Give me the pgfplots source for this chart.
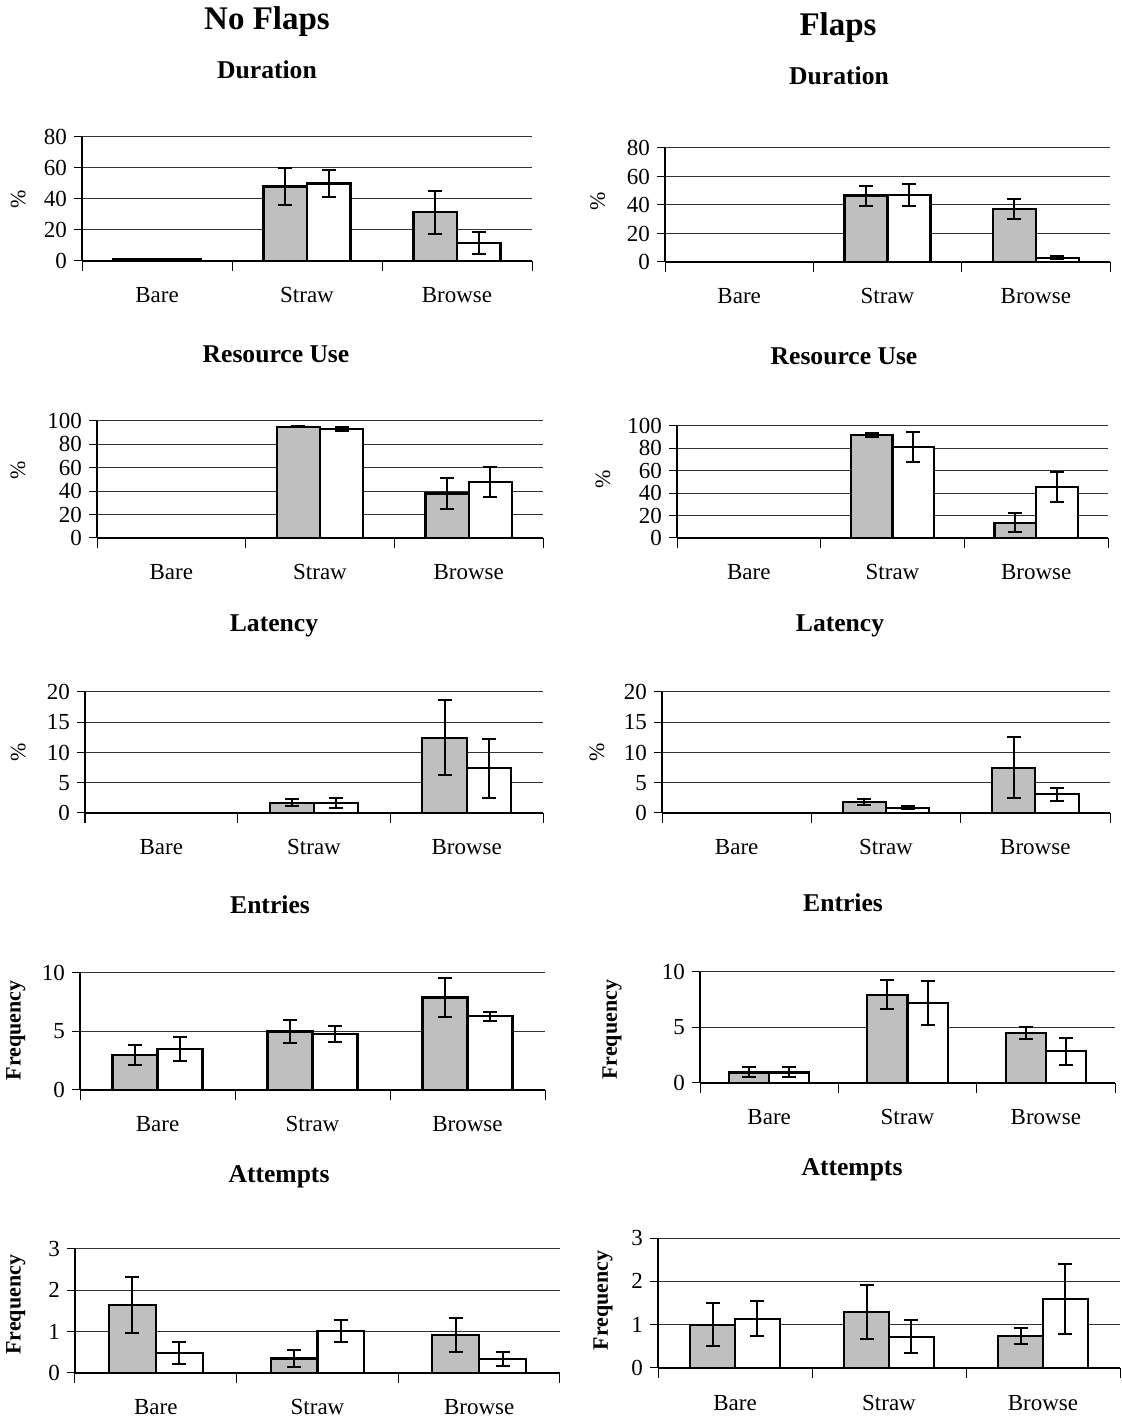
\documentclass[border=0pt]{standalone}
\usepackage{fontspec}
\setmainfont{Liberation Serif}
\usepackage{pgfplots}
\pgfplotsset{compat=1.18}
\pgfplotsset{
 ebar/.style={error bars/y dir=both, error bars/y explicit,
   error bars/error bar style={line width=1pt, black},
   error bars/error mark options={rotate=90, black, line width=1pt, mark size=3.5pt}},
 gbar/.style={fill=black!25, draw=black, line width=1.1pt, bar shift=-0.145, ebar},
 wbar/.style={fill=white, draw=black, line width=1.1pt, bar shift=0.145, ebar},
 panel/.style={
  scale only axis, anchor=south west,
  ybar, bar width=0.29,
  xmin=-0.5, xmax=2.5, ymin=0,
  xtick={0,1,2}, xticklabels={Bare,Straw,Browse},
  minor xtick={-0.5,0.5,1.5,2.5},
  major x tick style={draw=none},
  minor x tick style={black, line width=0.5pt},
  minor tick length=5pt,
  major tick length=4pt,
  tick align=outside,
  axis lines*=left,
  axis line style={black, line width=0.6pt},
  ymajorgrids, grid style={black!80, line width=0.5pt},
  ytick style={black, line width=0.5pt},
  tick label style={font=\fontsize{11.5}{13}\selectfont},
  /pgf/number format/assume math mode=true,
  xticklabel style={anchor=base, yshift=-17pt},
  yticklabel style={xshift=0pt},
  clip=false,
 },
 pct/.style={ylabel={\%}, ylabel style={at={(axis description cs:#1)}, anchor=center, font=\fontsize{11}{13}\selectfont}},
 freq/.style={ylabel={Frequency}, ylabel style={at={(axis description cs:#1)}, anchor=center, font=\bfseries\fontsize{11}{13}\selectfont}},
}
\begin{document}
\begin{tikzpicture}
\useasboundingbox (0,0) rectangle (561pt,711pt);
\tikzset{ttl/.style={font=\bfseries\fontsize{12.8}{15}\selectfont}}
\node[font=\bfseries\fontsize{16.5}{19}\selectfont] at (133.5pt,700pt) {No Flaps};
\node[font=\bfseries\fontsize{16.5}{19}\selectfont] at (419pt,697pt) {Flaps};
\node[ttl] at (133.5pt,676pt) {Duration};
\node[ttl] at (419.5pt,673pt) {Duration};
\node[ttl] at (138pt,534pt) {Resource Use};
\node[ttl] at (422pt,533pt) {Resource Use};
\node[ttl] at (137pt,398pt) {Latency};
\node[ttl] at (420pt,398pt) {Latency};
\node[ttl] at (135pt,258.5pt) {Entries};
\node[ttl] at (421.5pt,259.5pt) {Entries};
\node[ttl] at (139.5pt,122.5pt) {Attempts};
\node[ttl] at (426pt,126pt) {Attempts};

% P1 No Flaps Duration
\begin{axis}[panel, at={(41pt,580.5pt)}, width=225pt, height=62pt,
  ymax=80, ytick={0,20,40,60,80}, pct={-0.142,0.5}]
\addplot[gbar] coordinates {(0,1.5) +- (0,0) (1,48) +- (0,12) (2,31.4) +- (0,14)};
\addplot[wbar] coordinates {(0,1.5) +- (0,0) (1,50) +- (0,8.5) (2,11.5) +- (0,7)};
\end{axis}

% P2 No Flaps Resource Use
\begin{axis}[panel, at={(48.5pt,442pt)}, width=223pt, height=58.5pt,
  ymax=100, ytick={0,20,40,60,80,100}, pct={-0.177,0.58}]
\addplot[gbar] coordinates {(0,0) +- (0,0) (1,95) +- (0,0.5) (2,38) +- (0,13.4)};
\addplot[wbar] coordinates {(0,0) +- (0,0) (1,93) +- (0,1.5) (2,48) +- (0,12.7)};
\end{axis}

% P3 No Flaps Latency
\begin{axis}[panel, at={(42.5pt,304.5pt)}, width=229pt, height=60.5pt,
  ymax=20, ytick={0,5,10,15,20}, pct={-0.146,0.5}]
\addplot[gbar] coordinates {(0,0) +- (0,0) (1,1.7) +- (0,0.55) (2,12.4) +- (0,6.2)};
\addplot[wbar] coordinates {(0,0) +- (0,0) (1,1.7) +- (0,0.8) (2,7.4) +- (0,4.9)};
\end{axis}

% P4 No Flaps Entries
\begin{axis}[panel, at={(40pt,166pt)}, width=232.5pt, height=58.5pt,
  ymax=10, ytick={0,5,10}, freq={-0.138,0.51}]
\addplot[gbar] coordinates {(0,3.0) +- (0,0.86) (1,5.0) +- (0,0.96) (2,7.9) +- (0,1.68)};
\addplot[wbar] coordinates {(0,3.5) +- (0,1.05) (1,4.8) +- (0,0.68) (2,6.3) +- (0,0.37)};
\end{axis}

% P5 No Flaps Attempts
\begin{axis}[panel, at={(37.5pt,24.5pt)}, width=242.5pt, height=62pt,
  ymax=3, ytick={0,1,2,3}, freq={-0.122,0.55}]
\addplot[gbar] coordinates {(0,1.65) +- (0,0.68) (1,0.35) +- (0,0.2) (2,0.91) +- (0,0.41)};
\addplot[wbar] coordinates {(0,0.49) +- (0,0.27) (1,1.02) +- (0,0.26) (2,0.34) +- (0,0.18)};
\end{axis}

% P6 Flaps Duration
\begin{axis}[panel, at={(332.5pt,580pt)}, width=222.5pt, height=57pt,
  ymax=80, ytick={0,20,40,60,80}, pct={-0.151,0.53}]
\addplot[gbar] coordinates {(0,0) +- (0,0) (1,46.6) +- (0,7) (2,37) +- (0,7)};
\addplot[wbar] coordinates {(0,0) +- (0,0) (1,47) +- (0,8) (2,3) +- (0,1)};
\end{axis}

% P7 Flaps Resource Use
\begin{axis}[panel, at={(338.5pt,442pt)}, width=215.5pt, height=56pt,
  ymax=100, ytick={0,20,40,60,80,100}, pct={-0.172,0.52}]
\addplot[gbar] coordinates {(0,0) +- (0,0) (1,92) +- (0,1.5) (2,13.6) +- (0,8.7)};
\addplot[wbar] coordinates {(0,0) +- (0,0) (1,81) +- (0,13.4) (2,45.7) +- (0,13.4)};
\end{axis}

% P8 Flaps Latency
\begin{axis}[panel, at={(331pt,304.5pt)}, width=224pt, height=60.5pt,
  ymax=20, ytick={0,5,10,15,20}, pct={-0.145,0.5}]
\addplot[gbar] coordinates {(0,0) +- (0,0) (1,1.8) +- (0,0.45) (2,7.5) +- (0,5)};
\addplot[wbar] coordinates {(0,0) +- (0,0) (1,0.85) +- (0,0.25) (2,3.1) +- (0,1.05)};
\end{axis}

% P9 Flaps Entries
\begin{axis}[panel, at={(350pt,169.5pt)}, width=207.5pt, height=55.5pt,
  ymax=10, ytick={0,5,10}, freq={-0.212,0.48}]
\addplot[gbar] coordinates {(0,0.95) +- (0,0.45) (1,7.95) +- (0,1.3) (2,4.5) +- (0,0.57)};
\addplot[wbar] coordinates {(0,0.95) +- (0,0.45) (1,7.2) +- (0,1.95) (2,2.85) +- (0,1.2)};
\end{axis}

% P10 Flaps Attempts
\begin{axis}[panel, at={(329pt,27pt)}, width=231pt, height=65pt,
  ymax=3, ytick={0,1,2,3}, freq={-0.119,0.52}]
\addplot[gbar] coordinates {(0,1.0) +- (0,0.5) (1,1.3) +- (0,0.62) (2,0.74) +- (0,0.19)};
\addplot[wbar] coordinates {(0,1.14) +- (0,0.4) (1,0.72) +- (0,0.38) (2,1.6) +- (0,0.81)};
\end{axis}
\end{tikzpicture}
\end{document}
